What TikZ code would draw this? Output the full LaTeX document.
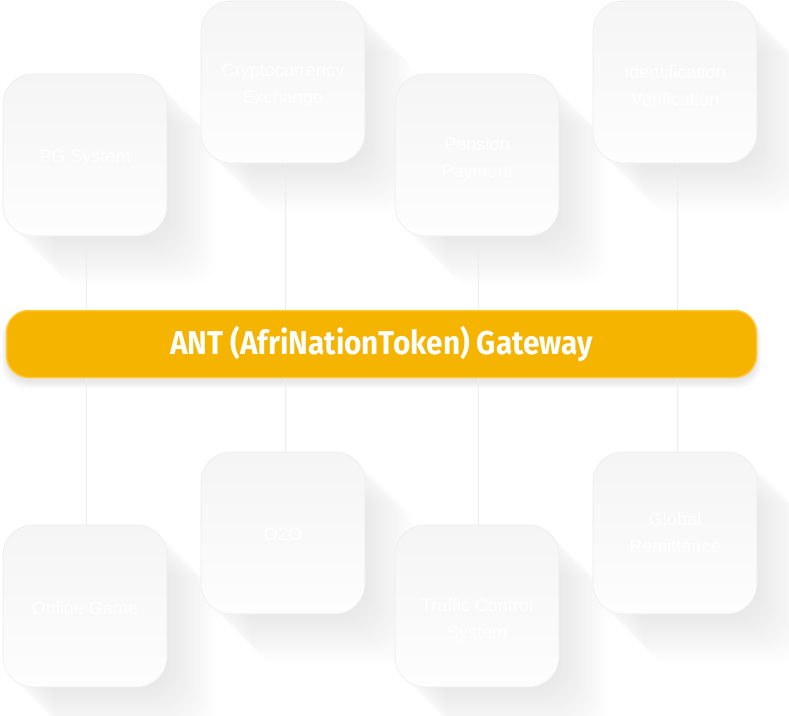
\documentclass[tikz,border=0pt]{standalone}
\usepackage{fontspec}
\setmainfont{Liberation Sans}
\newfontfamily\gwfont{Fira Sans}[UprightFont=* Bold]
\usetikzlibrary{positioning}
\definecolor{boxtop}{HTML}{F5F5F5}
\definecolor{boxbot}{HTML}{FDFDFD}
\definecolor{boxline}{HTML}{ECECEC}
\definecolor{linkc}{HTML}{EDEDED}
\definecolor{gold}{HTML}{F5B400}
\definecolor{goldedge}{HTML}{FFC93A}
\tikzset{
  tile/.style={rounded corners=30pt, minimum width=164pt, minimum height=162pt,
    top color=boxtop, bottom color=boxbot, draw=boxline, line width=0.6pt, inner sep=0pt},
  tiletext/.style={text=white, font=\fontsize{18}{27}\selectfont, align=center, inner sep=0pt},
  tileshadow/.style={rounded corners=30pt, fill=black, fill opacity=0.0038, draw=none},
  link/.style={draw=linkc, line width=1pt},
  gateway/.style={rounded corners=22pt, minimum width=750pt, minimum height=67pt,
    fill=gold, draw=goldedge, line width=1.5pt, text=white, inner sep=0pt}
}
\newcommand{\tileshade}[2]{%
  \foreach \i in {1,...,22} {
    \fill[tileshadow] ({#1-82+2.3*\i},{-(#2-81)-2.3*\i}) rectangle ++(164,-162);
  }%
}
\begin{document}
\begin{tikzpicture}[x=1pt,y=1pt]
\useasboundingbox (0,0) rectangle (789,-715);
% shadows of tiles
\tileshade{85}{155}
\tileshade{283}{82}
\tileshade{477}{155}
\tileshade{675}{82}
\tileshade{85}{606}
\tileshade{283}{533}
\tileshade{477}{606}
\tileshade{675}{533}
% gateway shadow
\foreach \i in {1,...,8} {
  \fill[black, fill opacity=0.012, rounded corners=24pt] ({381.5-375-\i*0.6},{-344+33.5-1.5-\i*0.3}) rectangle ({381.5+375+\i*0.6},{-344-33.5-3-\i*1.0});
}
% tiles
\node[tile] (pg) at (85,-155) {};
\node[tile] (crypto) at (283,-82) {};
\node[tile] (pension) at (477,-155) {};
\node[tile] (ident) at (675,-82) {};
\node[gateway] (gw) at (381.5,-344) {\gwfont\fontsize{33}{36}\selectfont\scalebox{0.9}[1]{ANT (AfriNationToken) Gateway}};
\node[tile] (game) at (85,-606) {};
\node[tile] (o2o) at (283,-533) {};
\node[tile] (traffic) at (477,-606) {};
\node[tile] (global) at (675,-533) {};
% tile texts
\node[tiletext] (pgt) at ([yshift=-3pt]pg.center) {PG System};
\node[tiletext] (cryptot) at ([yshift=-4pt]crypto.center) {Cryptocurrency\\Exchange};
\node[tiletext] (pensiont) at ([yshift=-4pt]pension.center) {Pension\\Payment};
\node[tiletext] (identt) at ([yshift=-4pt]ident.center) {Identification\\Verification};
\node[tiletext] (gamet) at ([yshift=-2pt]game.center) {Online Game};
\node[tiletext] (o2ot) at ([yshift=-1pt]o2o.center) {O2O};
\node[tiletext] (traffict) at ([yshift=-14pt]traffic.center) {Traffic Control\\System};
\node[tiletext] (globalt) at ([yshift=0pt]global.center) {Global\\Remittance};
% connectors
\draw[link] ([xshift=1pt]pg.south) -- ([xshift=1pt]pg.south |- gw.north);
\draw[link] ([xshift=2pt]crypto.south) -- ([xshift=2pt]crypto.south |- gw.north);
\draw[link] ([xshift=1pt]pension.south) -- ([xshift=1pt]pension.south |- gw.north);
\draw[link] ([xshift=2pt]ident.south) -- ([xshift=2pt]ident.south |- gw.north);
\draw[link] ([xshift=1pt]game.north) -- ([xshift=1pt]game.north |- gw.south);
\draw[link] ([xshift=2pt]o2o.north) -- ([xshift=2pt]o2o.north |- gw.south);
\draw[link] ([xshift=1pt]traffic.north) -- ([xshift=1pt]traffic.north |- gw.south);
\draw[link] ([xshift=2pt]global.north) -- ([xshift=2pt]global.north |- gw.south);
\end{tikzpicture}
\end{document}
